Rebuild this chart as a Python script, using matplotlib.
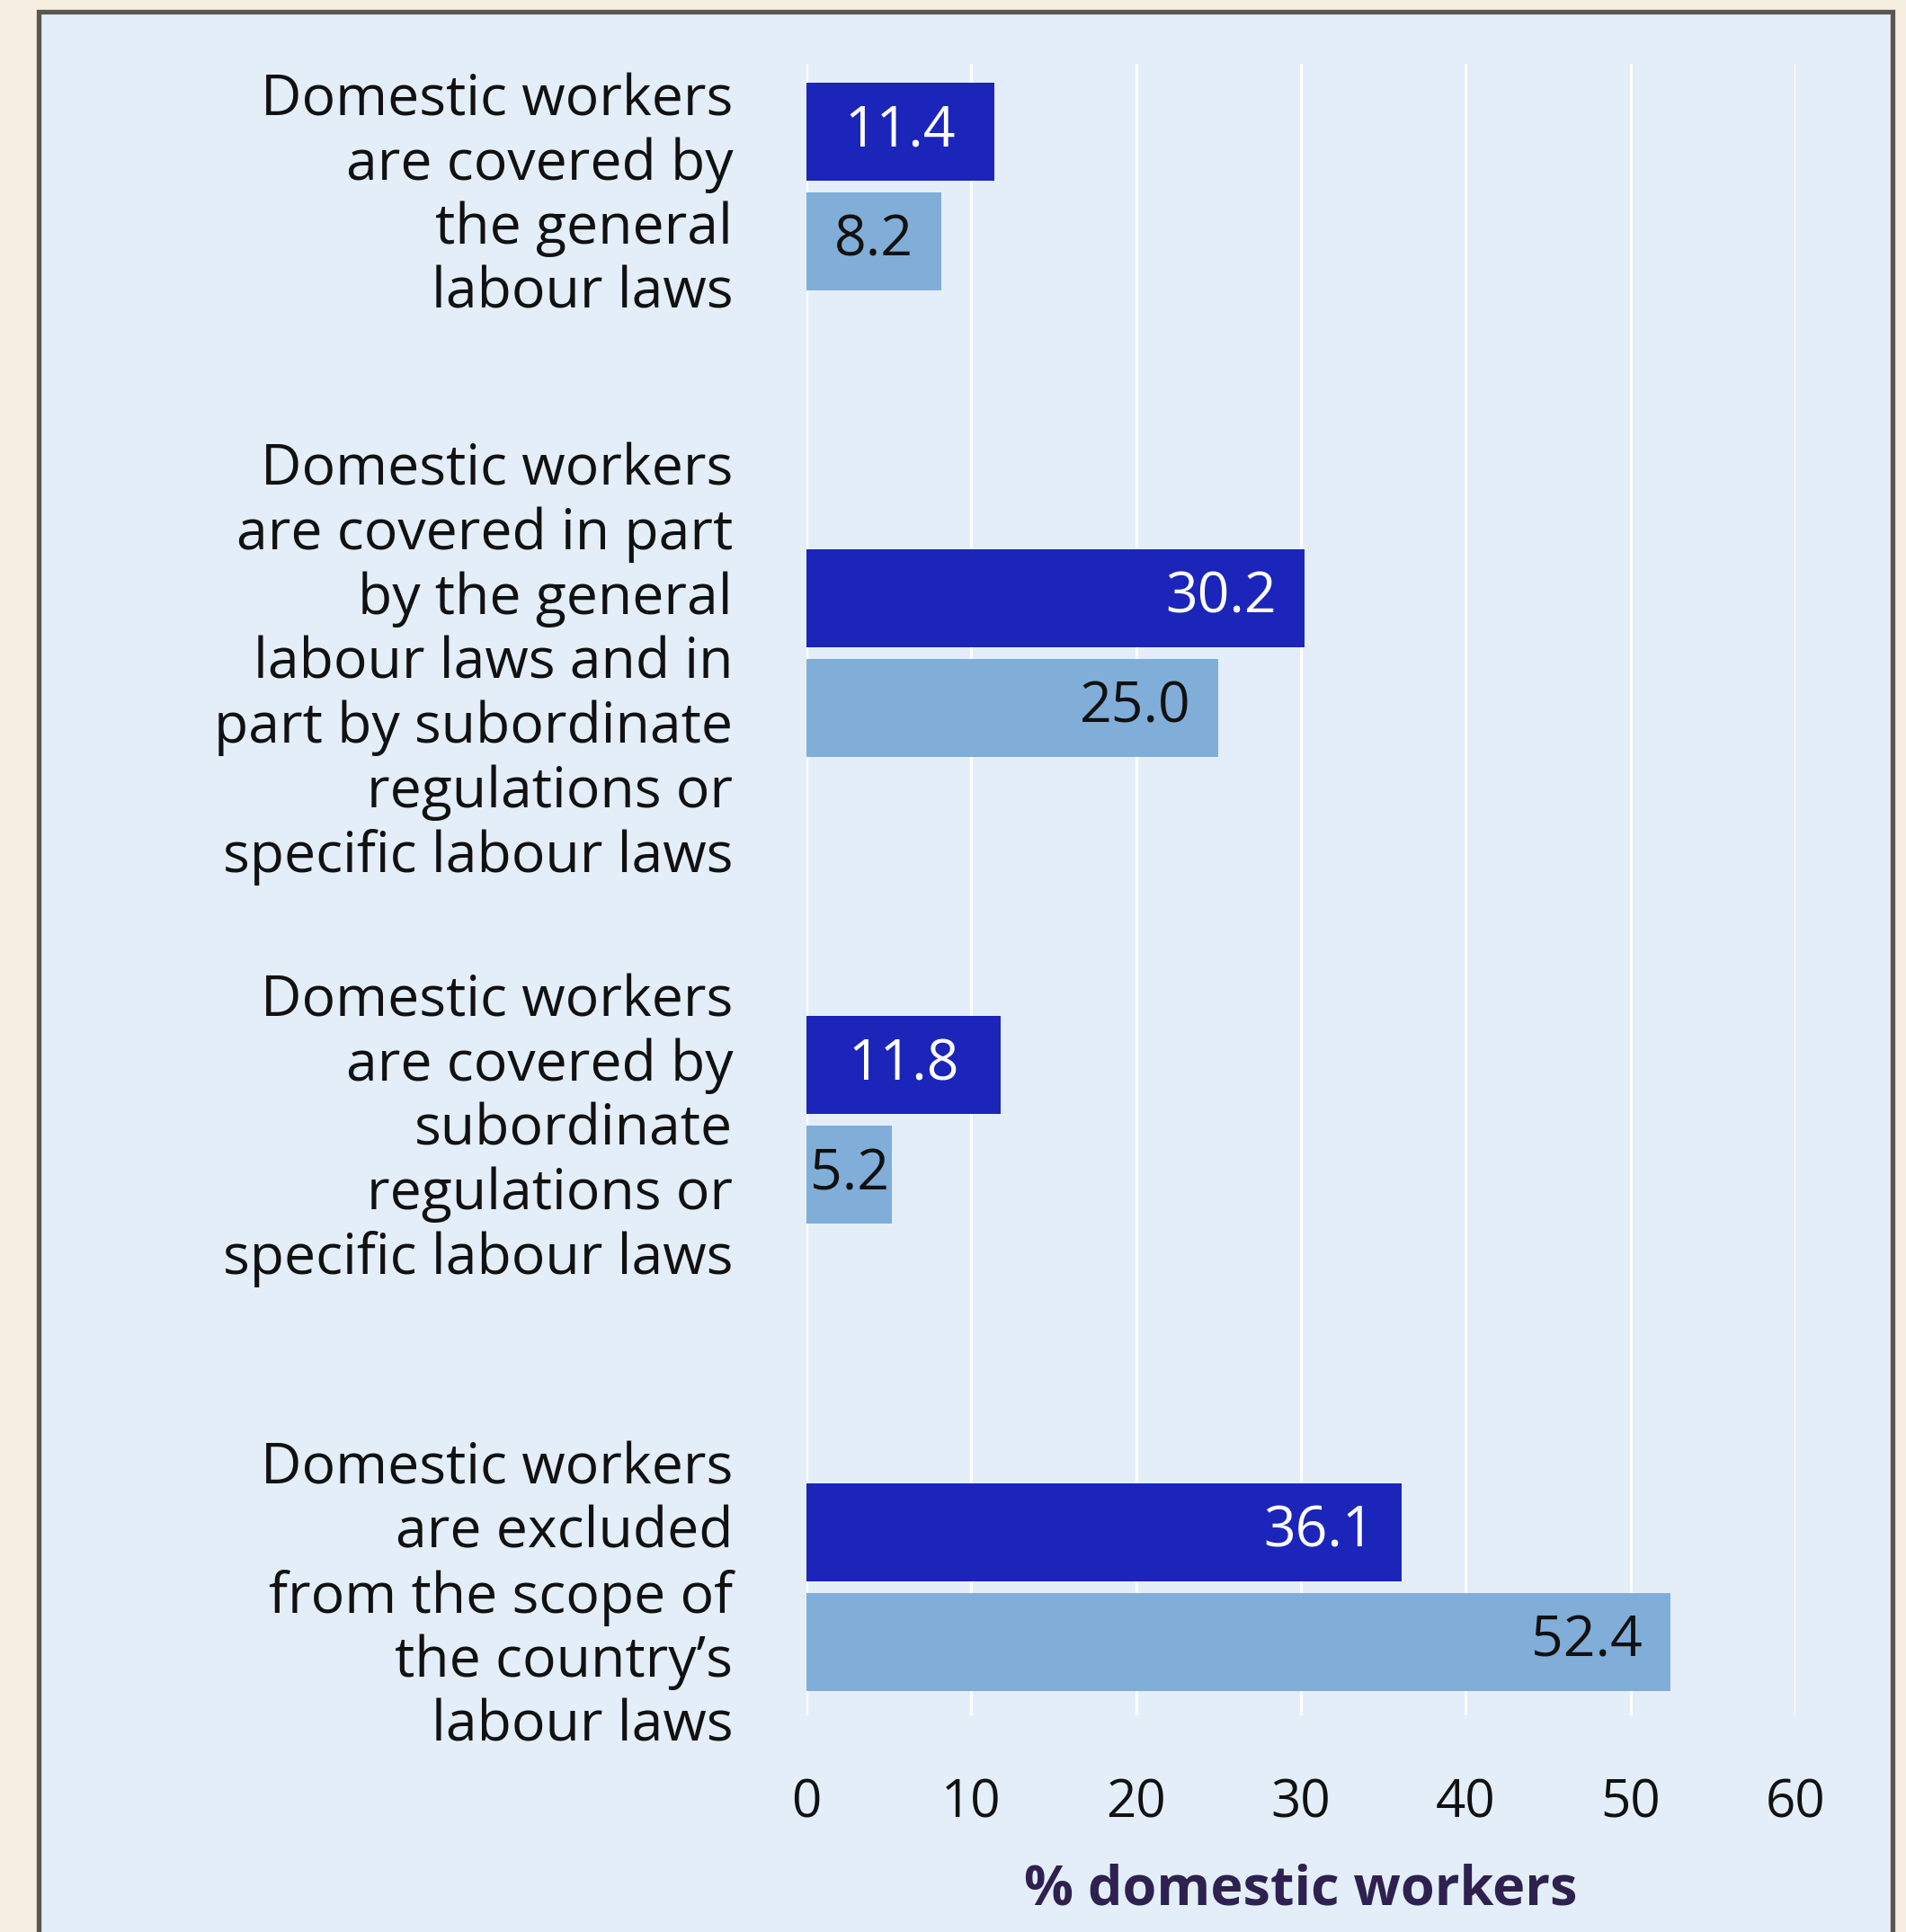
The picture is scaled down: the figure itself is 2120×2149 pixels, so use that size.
import numpy as np
import matplotlib
matplotlib.use("Agg")
import matplotlib.pyplot as plt
from matplotlib.patches import Rectangle

plt.rcParams.update({
    "font.family": ["Open Sans", "DejaVu Sans"],
    "axes.spines.top": False,
    "axes.spines.right": False,
    "axes.spines.left": False,
    "axes.spines.bottom": False,
})

# ---- data -------------------------------------------------------------
categories = [
    "Domestic workers\nare covered by\nthe general\nlabour laws",
    "Domestic workers\nare covered in part\nby the general\nlabour laws and in\npart by subordinate\nregulations or\nspecific labour laws",
    "Domestic workers\nare covered by\nsubordinate\nregulations or\nspecific labour laws",
    "Domestic workers\nare excluded\nfrom the scope of\nthe country\u2019s\nlabour laws",
]
series_dark = [11.4, 30.2, 11.8, 36.1]
series_light = [8.2, 25.0, 5.2, 52.4]
x_ticks = [0, 10, 20, 30, 40, 50, 60]

DARK = "#1b25b9"
LIGHT = "#80aed9"
PANEL = "#e4eef9"
CREAM = "#f6eee0"
BORDER = "#5a5650"
LABEL = "#2e2150"

# ---- figure -------------------------------------------------------------
W, H = 2120, 2149
fig = plt.figure(figsize=(W / 100, H / 100), dpi=100, facecolor=CREAM)

# framed light-blue panel (runs off the bottom edge)
fig.patches.append(Rectangle((43 / W, -0.02), (2105 - 43) / W, 1 - 13 / H + 0.02,
                             transform=fig.transFigure, facecolor=PANEL,
                             edgecolor=BORDER, linewidth=3.8, zorder=-10))

ax = fig.add_axes([897 / W, 1 - 1908 / H, (1997 - 897) / W, (1908 - 71) / H])
ax.set_facecolor("none")
ax.set_zorder(5)

y = np.arange(len(categories))
h = 0.21
off = 0.1175
bars_d = ax.barh(y - off, series_dark, height=h, color=DARK, zorder=3)
bars_l = ax.barh(y + off, series_light, height=h, color=LIGHT, zorder=3)


def label_bars(bars, vals, color):
    for b, v in zip(bars, vals):
        cy = b.get_y() + b.get_height() / 2
        if v < 15:
            ax.text(v / 2, cy, f"{v:.1f}", ha="center", va="center",
                    fontsize=45, color=color, zorder=4)
        else:
            ax.annotate(f"{v:.1f}", xy=(v, cy), xytext=(-22, 0),
                        textcoords="offset points", ha="right", va="center",
                        fontsize=45, color=color, zorder=4)


label_bars(bars_d, series_dark, "white")
label_bars(bars_l, series_light, "#111111")

ax.set_xlim(0, 60)
ax.set_ylim(len(categories) - 1 + 0.275, -0.262)
ax.set_xticks(x_ticks)
ax.set_xticklabels([str(t) for t in x_ticks])
ax.set_yticks(y)
ax.set_yticklabels(categories, linespacing=1.19)
ax.tick_params(axis="x", length=0, pad=50, labelsize=42, labelcolor="#111111")
ax.tick_params(axis="y", length=0, pad=59, labelsize=45, labelcolor="#111111")
ax.grid(axis="x", color="white", lw=2.2, zorder=1)
ax.set_axisbelow(True)
ax.set_xlabel("% domestic workers", fontsize=44, fontweight="bold",
              color=LABEL, labelpad=26)

fig.savefig("out.png", dpi=100, facecolor=CREAM)
